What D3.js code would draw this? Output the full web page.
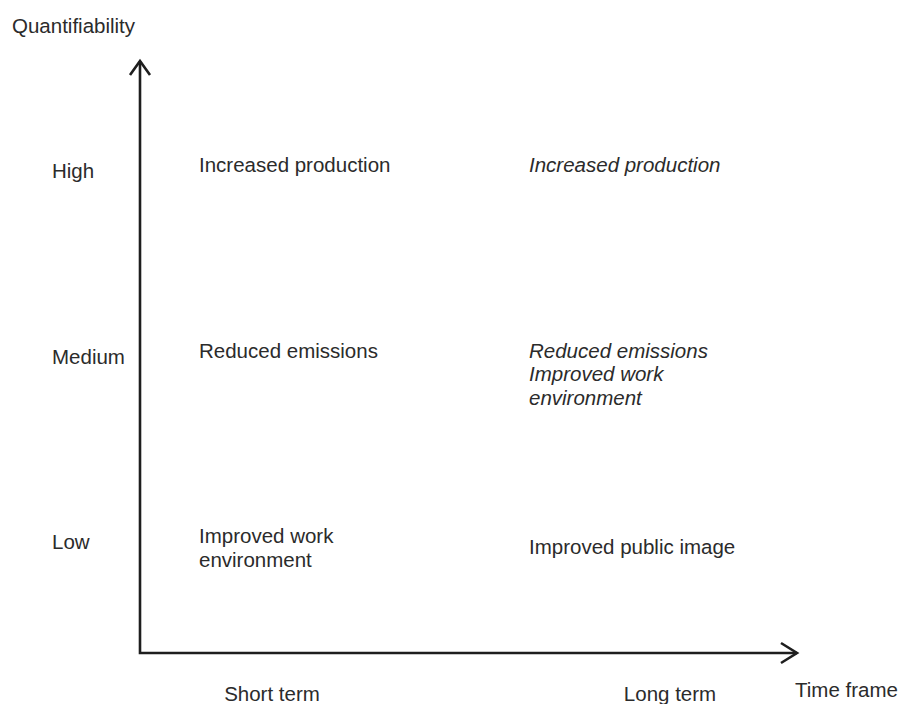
<!DOCTYPE html>
<html>
<head>
<meta charset="utf-8">
<script src="https://cdn.jsdelivr.net/npm/d3@7"></script>
<style>
  body { margin: 0; background: #fff; }
  text { font-family: "Liberation Sans", Arial, sans-serif; fill: #2b2b2b; }
</style>
</head>
<body>
<svg width="900" height="704"></svg>
<script>
// levels on each axis
var levels = ["High", "Medium", "Low"];
var terms = ["Short term", "Long term"];

// cell contents: one entry per block of text
var cellTerm  = ["Short term", "Long term", "Short term", "Long term", "Short term", "Long term"];
var cellLevel = ["High", "High", "Medium", "Medium", "Low", "Low"];
var cellItalic = [false, true, false, true, false, false];
var cellLines = [
    ["Increased production"],
    ["Increased production"],
    ["Reduced emissions"],
    ["Reduced emissions", "Improved work", "environment"],
    ["Improved work", "environment"],
    ["Improved public image"]
];

var svg = d3.select("svg");

var origin = { x: 140, y: 653 };

// scales
var y = d3.scalePoint().domain(levels).range([171, 542]);
var xLabel = d3.scalePoint().domain(terms).range([272, 670]);
var xCell = d3.scalePoint().domain(terms).range([199, 529]);

// axes with open arrow heads
var axes = svg.append("g")
    .attr("fill", "none")
    .attr("stroke", "#1e1e1e")
    .attr("stroke-width", 2.6)
    .attr("stroke-linejoin", "miter");

axes.append("path")
    .attr("d", "M" + origin.x + "," + 61 + "V" + origin.y + "H" + 797);
axes.append("path")
    .attr("d", "M130,75L" + origin.x + ",61L150,75");
axes.append("path")
    .attr("d", "M781,643L797," + origin.y + "L781,663");

// axis titles
svg.append("text")
    .attr("x", 12).attr("y", 33)
    .attr("font-size", 20.5)
    .text("Quantifiability");

svg.append("text")
    .attr("x", 795).attr("y", 697)
    .attr("font-size", 20.5)
    .text("Time frame");

// level labels
svg.append("g").selectAll("text")
    .data(levels)
    .enter().append("text")
    .attr("x", 52)
    .attr("y", d => y(d) + 7)
    .attr("font-size", 20.5)
    .text(d => d);

// term labels
svg.append("g").selectAll("text")
    .data(terms)
    .enter().append("text")
    .attr("x", d => xLabel(d))
    .attr("y", 701)
    .attr("text-anchor", "middle")
    .attr("font-size", 20.5)
    .text(d => d);

// cell text
var cells = svg.append("g").selectAll("text")
    .data(cellLines.map((lines, i) => ({
        term: cellTerm[i], level: cellLevel[i], italic: cellItalic[i], lines: lines
    })))
    .enter().append("text")
    .attr("x", d => xCell(d.term))
    .attr("y", d => y(d.level) + (d.lines.length === 1 && !d.italic && d.term === "Long term" ? 12 : 1))
    .attr("font-size", 20.5)
    .attr("font-style", d => d.italic ? "italic" : "normal");

cells.selectAll("tspan")
    .data(d => d.lines.map(l => ({ line: l, x: xCell(d.term) })))
    .enter().append("tspan")
    .attr("x", d => d.x)
    .attr("dy", (d, i) => i === 0 ? 0 : 23.5)
    .text(d => d.line);
</script>
</body>
</html>
